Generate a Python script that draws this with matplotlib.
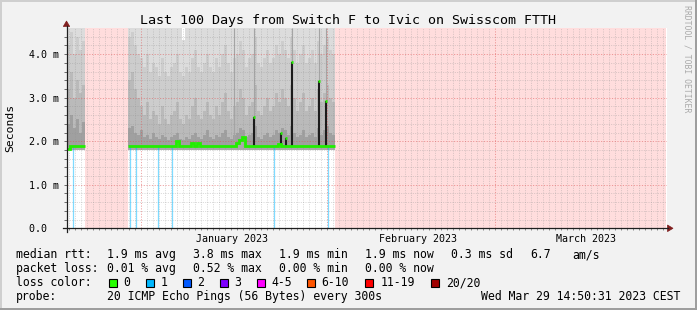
import matplotlib
matplotlib.use("Agg")
import matplotlib.pyplot as plt
import matplotlib.dates as mdates
import matplotlib.transforms as mtransforms
from matplotlib.lines import Line2D
from matplotlib.patches import Rectangle, Polygon
import numpy as np
from datetime import datetime, timedelta

# ---------------- data ----------------
title = "Last 100 Days from Switch F to Ivic on Swisscom FTTH"
end_time = datetime(2023, 3, 29, 14, 50, 31)
start_time = end_time - timedelta(days=100)
sample_hours = 12
min_rtt_ms = 1.80

# segment 1 (ms)
seg1_start = datetime(2022, 12, 19, 14, 50, 31)
seg1_median = [1.83, 1.88, 1.89, 1.89, 1.88, 1.89]
seg1_p_a = [2.40, 2.60, 2.30, 2.50, 2.20, 2.45]
seg1_p_b = [3.20, 3.60, 3.00, 3.40, 3.10, 3.30]
seg1_p_c = [4.20, 4.50, 4.00, 4.40, 4.10, 4.30]
seg1_max = [4.80, 4.80, 4.80, 4.80, 4.80, 4.80]

# segment 2 (ms)
seg2_start = datetime(2022, 12, 29, 22, 50)
seg2_median = [1.89, 1.89, 1.88, 1.89, 1.89, 1.88, 1.89, 1.89, 1.88, 1.88,
               1.89, 1.88, 1.88, 1.89, 1.89, 1.88, 2.00, 1.89, 1.88, 1.88,
               1.89, 1.96, 1.89, 1.95, 1.88, 1.88, 1.89, 1.88, 1.88, 1.89,
               1.88, 1.88, 1.89, 1.89, 1.88, 1.89, 1.97, 2.02, 2.10, 1.90,
               1.89, 1.89, 1.90, 1.89, 1.88, 1.89, 1.89, 1.88, 1.89, 1.89,
               1.93, 1.89, 1.90, 1.89, 1.90, 1.89, 1.89, 1.88, 1.89, 1.89,
               1.89, 1.88, 1.89, 1.89, 1.90, 1.89, 1.89, 1.90, 1.89]
seg2_p_a = [2.30, 2.35, 2.20, 2.15, 2.25, 2.10, 2.15, 2.05, 2.20, 2.10,
            2.05, 2.15, 2.10, 2.02, 2.10, 2.15, 2.20, 2.05, 2.02, 2.10,
            2.05, 2.15, 2.20, 2.10, 2.05, 2.15, 2.25, 2.10, 2.05, 2.15,
            2.10, 2.20, 2.25, 2.10, 2.05, 2.15, 2.20, 2.30, 2.25, 2.10,
            2.15, 2.20, 2.35, 2.10, 2.05, 2.15, 2.20, 2.10, 2.15, 2.25,
            2.20, 2.30, 2.25, 2.15, 2.35, 2.20, 2.10, 2.15, 2.25, 2.10,
            2.15, 2.20, 2.10, 2.30, 2.15, 2.25, 2.35, 2.20, 2.15]
seg2_p_b = [3.40, 3.60, 3.20, 3.00, 2.80, 2.60, 2.90, 2.50, 2.70, 2.60,
            2.40, 2.80, 2.50, 2.40, 2.60, 2.70, 2.90, 2.50, 2.40, 2.60,
            2.50, 2.80, 3.00, 2.60, 2.50, 2.70, 2.90, 2.60, 2.50, 2.80,
            2.60, 2.90, 3.10, 2.70, 2.50, 2.80, 2.90, 3.20, 3.00, 2.60,
            2.80, 2.90, 3.30, 2.70, 2.60, 2.80, 3.00, 2.70, 2.80, 3.10,
            2.90, 3.20, 3.00, 2.80, 3.30, 3.00, 2.70, 2.90, 3.10, 2.70,
            2.80, 3.00, 2.70, 3.20, 2.90, 3.10, 3.30, 3.00, 2.90]
seg2_p_c = [4.40, 4.50, 4.20, 4.00, 3.90, 3.70, 4.00, 3.60, 3.80, 3.70,
            3.50, 3.90, 3.60, 3.50, 3.70, 3.80, 4.00, 3.60, 3.50, 3.70,
            3.60, 3.90, 4.10, 3.70, 3.60, 3.80, 4.00, 3.70, 3.60, 3.90,
            3.70, 4.00, 4.20, 3.80, 3.60, 3.90, 4.00, 4.30, 4.10, 3.70,
            3.90, 4.00, 4.40, 3.80, 3.70, 3.90, 4.10, 3.80, 3.90, 4.20,
            4.00, 4.30, 4.10, 3.90, 4.40, 4.10, 3.80, 4.00, 4.20, 3.80,
            3.90, 4.10, 3.80, 4.30, 4.00, 4.20, 4.40, 4.10, 4.00]
seg2_max = [4.80, 4.80, 4.80, 4.80, 4.80, 4.80, 4.80, 4.80, 4.80, 4.80,
            4.80, 4.80, 4.80, 4.80, 4.80, 4.80, 4.80, 4.80, 4.32, 4.80,
            4.80, 4.80, 4.80, 4.80, 4.80, 4.80, 4.80, 4.80, 4.80, 4.80,
            4.80, 4.80, 4.80, 4.80, 4.80, 4.80, 4.80, 4.80, 4.80, 4.80,
            4.80, 4.80, 4.80, 4.80, 4.80, 4.80, 4.80, 4.80, 4.80, 4.80,
            4.80, 4.80, 4.80, 4.80, 4.80, 4.80, 4.80, 4.80, 4.80, 4.80,
            4.80, 4.80, 4.80, 4.80, 4.80, 4.80, 4.80, 4.80, 4.80]

# single-loss events (1/20)
loss_times = [datetime(2022, 12, 20, 16, 0), datetime(2022, 12, 30, 4, 0),
              datetime(2022, 12, 31, 4, 0), datetime(2023, 1, 3, 20, 0),
              datetime(2023, 1, 6, 4, 0), datetime(2023, 1, 23, 4, 0),
              datetime(2023, 2, 1, 4, 0)]

# short median spikes (ms)
spike_times = [datetime(2023, 1, 19, 20, 0), datetime(2023, 1, 24, 8, 0),
               datetime(2023, 1, 25, 4, 0), datetime(2023, 1, 26, 4, 0),
               datetime(2023, 1, 30, 16, 0), datetime(2023, 1, 31, 20, 0)]
spike_tops = [2.55, 2.18, 2.07, 3.82, 3.38, 2.92]
streak_times = [datetime(2023, 1, 16, 12, 0), datetime(2023, 1, 19, 20, 0),
                datetime(2023, 1, 26, 4, 0), datetime(2023, 1, 30, 16, 0),
                datetime(2023, 1, 31, 20, 0)]

month_labels = ["January 2023", "February 2023", "March 2023"]
month_starts = [datetime(2023, 1, 1), datetime(2023, 2, 1), datetime(2023, 3, 1)]
ytick_vals = [0, 1, 2, 3, 4]
ytick_labels = ["0.0  ", "1.0 m", "2.0 m", "3.0 m", "4.0 m"]

median_stats = ["1.9 ms avg", "3.8 ms max", "1.9 ms min", "1.9 ms now",
                "0.3 ms sd", "6.7", "am/s"]
loss_stats = ["0.01 % avg", "0.52 % max", "0.00 % min", "0.00 % now"]
loss_labels = ["0", "1", "2", "3", "4-5", "6-10", "11-19", "20/20"]
loss_palette = ["#26ff00", "#00b8ff", "#0059ff", "#7e00ff", "#ff00ff",
                "#ff5500", "#ff0000", "#a00000"]
probe_text = "20 ICMP Echo Pings (56 Bytes) every 300s"
stamp_text = "Wed Mar 29 14:50:31 2023 CEST"

# ---------------- figure ----------------
W, H = 697, 310
MONO = "DejaVu Sans Mono"
fig = plt.figure(figsize=(W / 100, H / 100), dpi=100)
fig.patch.set_facecolor("#f2f2f2")

def P(x, y):
    return (x / W, 1 - y / H)

AX_L, AX_R, AX_T, AX_B = 66.5, 666.5, 28.0, 228.3
ax = fig.add_axes([AX_L / W, 1 - AX_B / H, (AX_R - AX_L) / W, (AX_B - AX_T) / H])
ax.set_facecolor("white")
x0 = mdates.date2num(start_time)
x1 = mdates.date2num(end_time)
ax.set_xlim(x0, x1)
ax.set_ylim(0, 4.6)
for s in ax.spines.values():
    s.set_visible(False)

green = "#22ee00"
band_cols = ["#aaaaaa", "#a0a0a0", "#bababa", "#cdcdcd", "#dcdcdc"]

segments = [
    (seg1_start, seg1_median, seg1_p_a, seg1_p_b, seg1_p_c, seg1_max),
    (seg2_start, seg2_median, seg2_p_a, seg2_p_b, seg2_p_c, seg2_max),
]

def seg_edges(t0, n):
    return mdates.date2num([t0 + timedelta(hours=sample_hours * i) for i in range(n + 1)])

def ext(v):
    v = np.asarray(v, float)
    return np.append(v, v[-1])

seg_bounds = []
for (t0, med, pa, pb, pc, pmax) in segments:
    n = min(len(med), len(pa), len(pb), len(pc), len(pmax))
    xe = seg_edges(t0, n)
    seg_bounds.append((xe[0], xe[-1], xe, np.asarray(med[:n], float)))
    levels = [np.full(n + 1, min_rtt_ms), ext(med[:n]), ext(pa[:n]), ext(pb[:n]),
              ext(pc[:n]), ext(pmax[:n])]
    for k in range(5):
        ax.fill_between(xe, levels[k], levels[k + 1], step="post", color=band_cols[k],
                        lw=0, antialiased=False, zorder=1)

# unknown (no data) areas
gaps = [(seg_bounds[0][1], seg_bounds[1][0]), (seg_bounds[1][1], x1)]
for g0, g1 in gaps:
    ax.axvspan(g0, g1, color="#ffdddd", lw=0, zorder=0.5)

def median_at(xn):
    for a, b, xe, med in seg_bounds:
        if a <= xn < b:
            i = int(np.searchsorted(xe, xn, side="right") - 1)
            return med[min(i, len(med) - 1)]
    return min_rtt_ms

# darker streaks of smoke reaching the top
sx = mdates.date2num(streak_times)
ax.vlines(sx, [median_at(v) for v in sx], 4.6, color="#a4a4a4", lw=0.8, zorder=1.5)

# grid
grid_c = (0.56, 0.56, 0.56, 0.42)
mgrid_c = (0.87, 0.31, 0.31, 0.5)
d = datetime(start_time.year, start_time.month, start_time.day) + timedelta(days=1)
day_nums = []
while d < end_time:
    if d not in month_starts:
        day_nums.append(mdates.date2num(d))
    d += timedelta(days=1)
for v in day_nums:
    ax.axvline(v, color=grid_c, lw=0.6, dashes=(1.2, 1.6), zorder=2)
for k in range(1, 23):
    if k % 5:
        ax.axhline(k * 0.2, color=grid_c, lw=0.6, dashes=(1.2, 1.6), zorder=2)
for m in month_starts:
    ax.axvline(mdates.date2num(m), color=mgrid_c, lw=0.7, dashes=(1.2, 1.6), zorder=2)
for v in ytick_vals[1:]:
    ax.axhline(v, color=mgrid_c, lw=0.7, dashes=(1.2, 1.6), zorder=2)

# loss markers
lx = mdates.date2num(loss_times)
ax.vlines(lx, 0, [median_at(v) for v in lx], color="#00b8ff", alpha=0.5, lw=0.9, zorder=2.5)

# spikes
spx = mdates.date2num(spike_times)
ax.vlines(spx, [median_at(v) for v in spx], spike_tops, color="#1c1c1c", lw=1.5, zorder=3)

# median line
for a, b, xe, med in seg_bounds:
    ax.step(xe, ext(med), where="post", color=green, lw=2.0, zorder=4,
            solid_capstyle="butt", solid_joinstyle="miter")
ax.hlines(spike_tops, spx - 0.2, spx + 0.2, color=green, lw=2.0, zorder=4.5)

# ticks
ax.set_yticks(ytick_vals)
ax.set_yticklabels(ytick_labels, fontfamily=MONO, fontsize=7.2)
ax.set_yticks([k * 0.2 for k in range(1, 23) if k % 5], minor=True)
ax.set_xticks(mdates.date2num(month_starts))
ax.set_xticks(day_nums, minor=True)
ax.set_xticklabels([])
ax.tick_params(axis="y", which="both", direction="out", length=2.2, width=0.6,
               color="#555555", pad=3.0)
ax.tick_params(axis="x", which="both", direction="out", length=1.6, width=0.6,
               color="#777777", labelbottom=False)

# month labels
trans = mtransforms.blended_transform_factory(ax.transData, fig.transFigure)
for m, lab in zip(month_starts, month_labels):
    ax.text(mdates.date2num(m) + 15.15, 1 - 242 / H, lab, transform=trans,
            ha="center", va="baseline", fontfamily=MONO, fontsize=7.2, clip_on=False)

# axes with arrows
axis_c = "#1f1f1f"
arrow_c = "#801f1f"
fig.add_artist(Line2D([63 / W, 668 / W], [1 - AX_B / H] * 2, color=axis_c, lw=0.9,
                      transform=fig.transFigure))
fig.add_artist(Line2D([AX_L / W] * 2, [1 - 231.5 / H, 1 - 26 / H], color=axis_c, lw=0.9,
                      transform=fig.transFigure))
fig.add_artist(Polygon([P(667.5, 225.0), P(673.0, 228.3), P(667.5, 231.6)], closed=True,
                       facecolor=arrow_c, edgecolor=arrow_c, lw=0.5, transform=fig.transFigure))
fig.add_artist(Polygon([P(63.3, 26.5), P(66.5, 21.0), P(69.7, 26.5)], closed=True,
                       facecolor=arrow_c, edgecolor=arrow_c, lw=0.5, transform=fig.transFigure))

# titles
fig.text(347.5 / W, 1 - 24 / H, title, ha="center", va="baseline", fontfamily=MONO,
         fontsize=9.6)
fig.text(10.5 / W, 1 - 128 / H, "Seconds", rotation=90, ha="center", va="center",
         fontfamily=MONO, fontsize=8.2)
fig.text(686.5 / W, 1 - 59 / H, "RRDTOOL / TOBI OETIKER", rotation=270, ha="center",
         va="center", fontfamily=MONO, fontsize=5.9, color="#aaaaaa")

# legend
LF = 8.3
rows_y = [258, 272, 286, 300]
fig.text(16 / W, 1 - rows_y[0] / H, "median rtt:", fontfamily=MONO, fontsize=LF, va="baseline")
for xp, s in zip([107, 193, 279, 365, 451, 530, 572], median_stats):
    fig.text(xp / W, 1 - rows_y[0] / H, s, fontfamily=MONO, fontsize=LF, va="baseline")
fig.text(16 / W, 1 - rows_y[1] / H, "packet loss:", fontfamily=MONO, fontsize=LF, va="baseline")
for xp, s in zip([107, 193, 279, 365], loss_stats):
    fig.text(xp / W, 1 - rows_y[1] / H, s, fontfamily=MONO, fontsize=LF, va="baseline")
fig.text(16 / W, 1 - rows_y[2] / H, "loss color:", fontfamily=MONO, fontsize=LF, va="baseline")
box_x = [108.5, 146, 183, 219.5, 256.5, 307, 365, 431]
lab_x = [123, 161, 197, 234, 271, 321.5, 380.5, 446]
for bx, tx, lab, col in zip(box_x, lab_x, loss_labels, loss_palette):
    fig.add_artist(Rectangle((bx / W, 1 - 286.5 / H), 8 / W, 8 / H, facecolor=col,
                             edgecolor="black", lw=0.8, transform=fig.transFigure))
    fig.text(tx / W, 1 - rows_y[2] / H, lab, fontfamily=MONO, fontsize=LF, va="baseline")
fig.text(16 / W, 1 - rows_y[3] / H, "probe:", fontfamily=MONO, fontsize=LF, va="baseline")
fig.text(107 / W, 1 - rows_y[3] / H, probe_text, fontfamily=MONO, fontsize=LF, va="baseline")
fig.text(680 / W, 1 - rows_y[3] / H, stamp_text, fontfamily=MONO, fontsize=LF,
         va="baseline", ha="right")

# 3D frame
shade_a = "#cfcfcf"
shade_b = "#9e9e9e"
fig.add_artist(Rectangle((0, 0), 2 / W, 1, facecolor=shade_a, lw=0, transform=fig.transFigure))
fig.add_artist(Rectangle((0, 1 - 2 / H), 1, 2 / H, facecolor=shade_a, lw=0, transform=fig.transFigure))
fig.add_artist(Rectangle((1 - 2 / W, 0), 2 / W, 1, facecolor=shade_b, lw=0, transform=fig.transFigure))
fig.add_artist(Rectangle((0, 0), 1, 2 / H, facecolor=shade_b, lw=0, transform=fig.transFigure))

fig.savefig("out.png", dpi=100, facecolor=fig.get_facecolor())
